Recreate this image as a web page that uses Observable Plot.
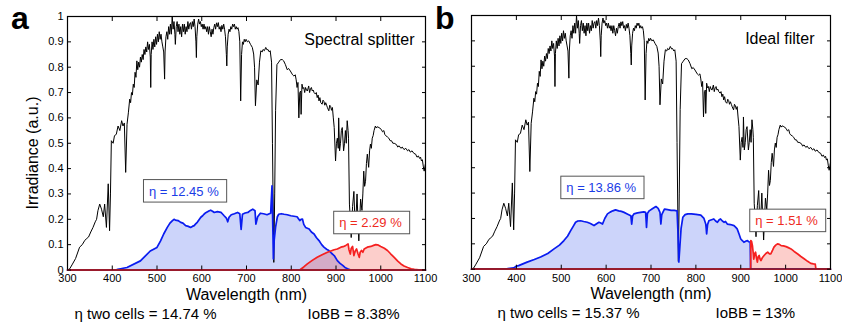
<!DOCTYPE html>
<html>
<head>
<meta charset="utf-8">
<script src="https://cdn.jsdelivr.net/npm/d3@7"></script>
<script src="https://cdn.jsdelivr.net/npm/@observablehq/plot@0.6"></script>
<style>
  body { margin: 0; background: #fff; }
  #wrap { position: relative; width: 842px; height: 326px; overflow: hidden; font-family: "Liberation Sans", Arial, Helvetica, sans-serif; }
  .panel { position: absolute; top: 0; }
  .letter { position: absolute; top: 2px; font-weight: bold; font-size: 32px; line-height: 32px; color: #000; }
</style>
</head>
<body>
<div id="wrap"></div>
<script>
// ---------- DATA ----------
const xTicks = [300, 400, 500, 600, 700, 800, 900, 1000, 1100];
const yTicks = [0, 0.1, 0.2, 0.3, 0.4, 0.5, 0.6, 0.7, 0.8, 0.9, 1];
const panelLetters = ["a", "b"];
const panelTags = ["Spectral splitter", "Ideal filter"];
const blueEta = ["η = 12.45 %", "η = 13.86 %"];
const redEta = ["η = 2.29 %", "η = 1.51 %"];
const blueEtaPos = [[560, 0.31], [589, 0.32]];
const redEtaPos = [[977, 0.185], [1002, 0.19]];
const twoCellEff = ["η two cells = 14.74 %", "η two cells = 15.37 %"];
const iobb = ["IoBB = 8.38%", "IoBB = 13%"];

// solar irradiance (a.u.), [wavelength nm, value]
const solar = [[300,0],[305,0.005],[310,0.02],[318,0.045],[327,0.09],[333,0.1],[338,0.115],[342,0.123],[347,0.13],[352,0.15],[357,0.168],[362,0.19],[365,0.2],[368,0.234],[372,0.26],[376,0.24],[380,0.21],[383,0.26],[387,0.168],[391,0.34],[394,0.155],[396,0.3],[398,0.51],[402,0.5],[405,0.53],[409,0.535],[413,0.568],[417,0.55],[421,0.589],[424,0.568],[427,0.58],[430,0.385],[433,0.575],[436,0.62],[439,0.674],[441,0.66],[443,0.7],[445,0.69],[447,0.733],[449,0.72],[451,0.78],[453,0.76],[455,0.825],[457,0.79],[459,0.82],[461,0.8],[463,0.84],[465,0.82],[467,0.85],[469,0.83],[471,0.87],[473,0.85],[475,0.88],[477,0.86],[479,0.9],[481,0.87],[483,0.89],[485,0.84],[486,0.72],[487,0.85],[489,0.9],[491,0.87],[493,0.91],[495,0.88],[497,0.92],[499,0.89],[501,0.93],[503,0.9],[505,0.94],[507,0.91],[509,0.93],[511,0.9],[513,0.88],[515,0.86],[517,0.753],[518,0.86],[520,0.92],[522,0.94],[524,0.91],[526,0.96],[528,0.93],[530,0.97],[532,0.93],[534,1.0],[536,0.95],[538,0.98],[540,0.93],[541,0.89],[543,0.96],[545,0.98],[547,0.94],[549,0.97],[551,0.93],[553,0.96],[555,0.92],[557,0.97],[559,0.94],[561,0.97],[563,0.93],[565,0.96],[567,0.94],[569,0.98],[571,0.95],[573,0.97],[575,0.976],[577,0.95],[579,0.98],[581,0.96],[583,0.99],[585,0.96],[587,0.9],[588,0.838],[589,0.92],[591,0.97],[593,0.99],[595,0.97],[597,0.98],[599,0.96],[601,0.97],[603,0.95],[605,0.97],[607,0.95],[609,0.96],[611,0.94],[613,0.96],[615,0.93],[617,0.96],[619,0.94],[621,0.92],[623,0.95],[625,0.93],[627,0.956],[629,0.97],[631,0.95],[633,0.975],[635,0.96],[637,0.976],[639,0.95],[641,0.96],[643,0.94],[645,0.965],[647,0.95],[649,0.97],[651,0.95],[653,0.92],[655,0.85],[656,0.805],[657,0.88],[659,0.93],[661,0.95],[663,0.94],[665,0.96],[667,0.95],[669,0.97],[671,0.96],[673,0.97],[675,0.95],[677,0.96],[679,0.95],[681,0.956],[683,0.94],[685,0.9],[687,0.667],[689,0.85],[691,0.9],[693,0.89],[695,0.91],[697,0.9],[699,0.91],[702,0.9],[705,0.904],[709,0.89],[713,0.878],[716,0.852],[718,0.8],[720,0.648],[723,0.75],[726,0.73],[729,0.82],[732,0.865],[735,0.86],[737,0.87],[740,0.865],[743,0.878],[746,0.868],[748,0.87],[751,0.86],[753,0.865],[756,0.82],[758,0.5],[761,0.03],[763,0.3],[765,0.63],[768,0.81],[772,0.82],[776,0.83],[780,0.83],[783,0.825],[787,0.81],[791,0.79],[794,0.795],[798,0.785],[803,0.77],[806,0.765],[809,0.77],[811,0.75],[813,0.72],[815,0.74],[817,0.6],[819,0.7],[821,0.706],[822,0.614],[824,0.733],[826,0.715],[828,0.72],[830,0.7],[832,0.72],[834,0.71],[836,0.706],[839,0.726],[841,0.7],[843,0.715],[845,0.72],[847,0.706],[849,0.71],[851,0.7],[854,0.694],[856,0.7],[858,0.68],[860,0.69],[862,0.667],[864,0.68],[866,0.66],[869,0.654],[871,0.67],[873,0.665],[875,0.65],[877,0.66],[879,0.65],[881,0.64],[884,0.628],[886,0.65],[888,0.645],[890,0.63],[892,0.641],[894,0.6],[896,0.562],[899,0.43],[901,0.5],[903,0.52],[905,0.48],[906,0.6],[908,0.47],[910,0.5],[912,0.55],[914,0.562],[917,0.47],[919,0.5],[921,0.55],[923,0.5],[925,0.589],[927,0.55],[928,0.52],[930,0.26],[932,0.2],[934,0.128],[937,0.25],[940,0.31],[943,0.155],[945,0.22],[947,0.3],[949,0.2],[951,0.115],[953,0.2],[955,0.28],[958,0.235],[960,0.3],[962,0.39],[964,0.33],[966,0.35],[968,0.42],[970,0.457],[973,0.405],[975,0.47],[977,0.497],[979,0.48],[981,0.52],[983,0.53],[985,0.55],[988,0.568],[990,0.56],[992,0.565],[996,0.562],[1001,0.555],[1004,0.545],[1007,0.55],[1009,0.535],[1011,0.53],[1015,0.525],[1018,0.52],[1021,0.51],[1024,0.51],[1027,0.5],[1030,0.5],[1035,0.495],[1038,0.485],[1041,0.49],[1045,0.48],[1048,0.485],[1052,0.475],[1056,0.48],[1060,0.47],[1063,0.475],[1066,0.465],[1070,0.47],[1074,0.46],[1078,0.457],[1081,0.445],[1084,0.45],[1087,0.44],[1089,0.445],[1091,0.43],[1093,0.435],[1095,0.41],[1097,0.39],[1099,0.41],[1100,0.42]];

// panel a: spectral splitter
const splitterBlue = [[300,0],[400,0],[410,0.002],[433,0.01],[463,0.036],[485,0.075],[500,0.089],[508,0.115],[515,0.142],[523,0.168],[529,0.185],[534,0.194],[538,0.2],[541,0.197],[547,0.195],[553,0.188],[558,0.185],[564,0.175],[570,0.172],[575,0.168],[579,0.172],[583,0.175],[587,0.183],[590,0.188],[594,0.198],[598,0.208],[602,0.214],[605,0.22],[609,0.226],[613,0.23],[617,0.234],[620,0.236],[624,0.232],[628,0.227],[635,0.23],[643,0.227],[647,0.22],[650,0.214],[655,0.205],[658,0.19],[661,0.208],[666,0.218],[673,0.222],[680,0.227],[685,0.222],[688,0.16],[691,0.22],[697,0.225],[703,0.227],[709,0.235],[714,0.24],[719,0.234],[721,0.181],[725,0.21],[731,0.224],[738,0.222],[746,0.218],[751,0.222],[754,0.224],[757,0.332],[759,0.15],[760,0.044],[762,0.12],[765,0.169],[769,0.21],[772,0.22],[778,0.222],[784,0.22],[791,0.218],[799,0.214],[806,0.212],[813,0.21],[817,0.2],[819,0.195],[822,0.2],[825,0.201],[828,0.18],[832,0.168],[836,0.165],[840,0.162],[845,0.15],[851,0.142],[856,0.128],[862,0.116],[868,0.1],[873,0.09],[879,0.082],[884,0.077],[890,0.066],[896,0.057],[903,0.037],[909,0.026],[915,0.018],[920,0.01],[926,0.005],[933,0],[1100,0]];
const splitterRed = [[300,0],[819,0],[828,0.012],[836,0.024],[847,0.038],[858,0.05],[869,0.06],[881,0.07],[896,0.08],[903,0.083],[911,0.09],[916,0.092],[922,0.097],[927,0.103],[929,0.08],[932,0.063],[934,0.085],[937,0.093],[940,0.057],[943,0.075],[946,0.083],[949,0.065],[952,0.05],[954,0.07],[957,0.077],[960,0.07],[963,0.083],[970,0.09],[978,0.093],[984,0.097],[989,0.1],[995,0.098],[1000,0.093],[1008,0.086],[1015,0.077],[1022,0.064],[1030,0.05],[1038,0.035],[1045,0.024],[1052,0.016],[1060,0.01],[1068,0.005],[1075,0.003],[1085,0.001],[1097,0],[1100,0]];

// panel b: ideal filter
const filterBlue = [[300,0],[365,0],[380,0.002],[394,0.005],[400,0.012],[405,0.014],[424,0.028],[440,0.038],[454,0.048],[470,0.062],[484,0.08],[496,0.095],[506,0.113],[514,0.13],[521,0.152],[527,0.17],[532,0.185],[537,0.19],[543,0.191],[550,0.188],[558,0.185],[565,0.18],[573,0.172],[578,0.178],[584,0.185],[588,0.182],[592,0.178],[597,0.2],[603,0.218],[609,0.225],[615,0.23],[621,0.234],[628,0.23],[634,0.228],[640,0.224],[647,0.218],[655,0.211],[657,0.178],[659,0.21],[662,0.218],[670,0.222],[677,0.224],[684,0.226],[688,0.224],[690,0.165],[692,0.22],[696,0.23],[703,0.238],[711,0.247],[716,0.24],[720,0.224],[722,0.178],[724,0.215],[730,0.237],[737,0.235],[745,0.232],[752,0.232],[758,0.23],[760,0.15],[762,0.028],[764,0.08],[767,0.16],[771,0.205],[776,0.215],[782,0.218],[790,0.218],[800,0.216],[811,0.213],[818,0.2],[822,0.178],[824,0.139],[826,0.175],[829,0.191],[835,0.195],[840,0.198],[844,0.19],[848,0.185],[852,0.195],[855,0.198],[859,0.19],[863,0.185],[866,0.188],[870,0.178],[877,0.176],[885,0.172],[889,0.165],[892,0.159],[896,0.14],[900,0.119],[904,0.112],[907,0.106],[911,0.11],[915,0.113],[918,0.108],[921,0.106],[922,0],[1100,0]];
const filterRed = [[300,0],[922,0],[922.5,0.113],[924,0.11],[926,0.093],[928,0.06],[929,0.04],[931,0.06],[933,0.067],[935,0.045],[937,0.028],[939,0.05],[941,0.054],[943,0.04],[945,0.034],[948,0.045],[952,0.054],[956,0.062],[960,0.067],[964,0.06],[967,0.06],[971,0.075],[974,0.087],[978,0.095],[982,0.1],[986,0.098],[990,0.093],[995,0.092],[1001,0.089],[1006,0.085],[1012,0.08],[1019,0.07],[1027,0.06],[1034,0.05],[1042,0.04],[1049,0.031],[1056,0.023],[1062,0.021],[1066,0.02],[1067.5,0],[1100,0]];

// ---------- DRAW ----------
const FONT = '"Liberation Sans", Arial, Helvetica, sans-serif';
const BLUE = "#0a1cf0", RED = "#f52020", BLUE_TXT = "#1a3ce6", RED_TXT = "#ee2a1e";
const X = d => d[0], Y = d => d[1];

function panel(i, cfg) {
  const blue = i === 0 ? splitterBlue : filterBlue;
  const red = i === 0 ? splitterRed : filterRed;
  const marks = [
    Plot.areaY(blue, {x: X, y: Y, fill: "#0028e6", fillOpacity: 0.2}),
    Plot.areaY(red, {x: X, y: Y, fill: "#f01e14", fillOpacity: 0.22}),
    Plot.line(solar, {x: X, y: Y, stroke: "black", strokeWidth: 1}),
    Plot.line(blue, {x: X, y: Y, stroke: BLUE, strokeWidth: 1.7}),
    Plot.line(red, {x: X, y: Y, stroke: RED, strokeWidth: 1.7}),
    Plot.frame({stroke: "black", strokeWidth: 1.2}),
    Plot.ruleY([0], {stroke: "#9a1a2c", strokeWidth: 1.8}),
    Plot.axisX(xTicks, {anchor: "bottom", tickSize: -4, tickPadding: 8.5, tickFormat: d => String(d), label: null, fontSize: 11}),
    Plot.axisX(xTicks, {anchor: "top", tickSize: -4, tickFormat: () => "", label: null}),
    Plot.axisY(yTicks, {anchor: "left", tickSize: -4, tickPadding: 8, tickFormat: i === 0 ? (d => String(d)) : (() => ""), label: null, fontSize: 11}),
    Plot.axisY(yTicks, {anchor: "right", tickSize: -4, tickFormat: () => "", label: null}),
    Plot.text([panelTags[i]], {text: d => d, frameAnchor: "top-right", textAnchor: "end", lineAnchor: "top", dx: cfg.tagDx, dy: 17.6, fontSize: 16}),
    Plot.text(["Wavelength (nm)"], {text: d => d, frameAnchor: "bottom", textAnchor: "middle", dy: 29.5, fontSize: 16}),
    Plot.text([twoCellEff[i]], {text: d => d, frameAnchor: "bottom-left", textAnchor: "start", dx: cfg.effDx, dy: 48.5, fontSize: 15}),
    Plot.text([iobb[i]], {text: d => d, frameAnchor: "bottom-left", textAnchor: "start", dx: cfg.iobbDx, dy: 48.5, fontSize: 15}),
    Plot.text([blueEtaPos[i]], {x: X, y: Y, text: () => blueEta[i], fill: BLUE_TXT, fontSize: 13}),
    Plot.text([redEtaPos[i]], {x: X, y: Y, text: () => redEta[i], fill: RED_TXT, fontSize: 13})
  ];
  if (i === 0) {
    marks.push(Plot.text(["Irradiance (a.u.)"], {text: d => d, frameAnchor: "left", textAnchor: "middle", rotate: -90, dx: -34.6, dy: 9.75, fontSize: 16}));
  }
  const svg = Plot.plot({
    width: cfg.width, height: 326,
    marginLeft: 67, marginRight: cfg.mr, marginTop: cfg.mt, marginBottom: cfg.mb,
    x: {domain: [300, 1100], axis: null},
    y: {domain: [0, 1], axis: null},
    style: {fontFamily: FONT, fontSize: "11px", background: "transparent", color: "black", overflow: "visible"},
    marks
  });
  svg.classList.add("panel");
  svg.style.left = cfg.left + "px";
  return svg;
}

const wrap = document.getElementById("wrap");
const svgA = panel(0, {left: 0, width: 440, mr: 15, mt: 16, mb: 56.5, tagDx: -11, effDx: 7, iobbDx: 240});
const svgB = panel(1, {left: 404, width: 438, mr: 12, mt: 15, mb: 57.3, tagDx: -16, effDx: 26, iobbDx: 244});
wrap.appendChild(svgA);
wrap.appendChild(svgB);

// boxes behind the efficiency annotations
const etaLabels = new Set([...blueEta, ...redEta]);
for (const svg of [svgA, svgB]) {
  Array.from(svg.querySelectorAll("text")).filter(t => etaLabels.has(t.textContent.trim())).forEach(t => {
    const b = t.getBBox();
    const r = document.createElementNS("http://www.w3.org/2000/svg", "rect");
    r.setAttribute("x", b.x - 5.5);
    r.setAttribute("y", b.y - 4);
    r.setAttribute("width", b.width + 13);
    r.setAttribute("height", b.height + 7.5);
    const tr = t.getAttribute("transform");
    if (tr) r.setAttribute("transform", tr);
    r.setAttribute("fill", "white");
    r.setAttribute("stroke", "#555");
    r.setAttribute("stroke-width", "1");
    t.parentNode.insertBefore(r, t);
  });
}

// panel letters
panelLetters.forEach((l, i) => {
  const d = document.createElement("div");
  d.className = "letter";
  d.textContent = l;
  d.style.left = (i === 0 ? 11 : 435) + "px";
  wrap.appendChild(d);
});
</script>
</body>
</html>
